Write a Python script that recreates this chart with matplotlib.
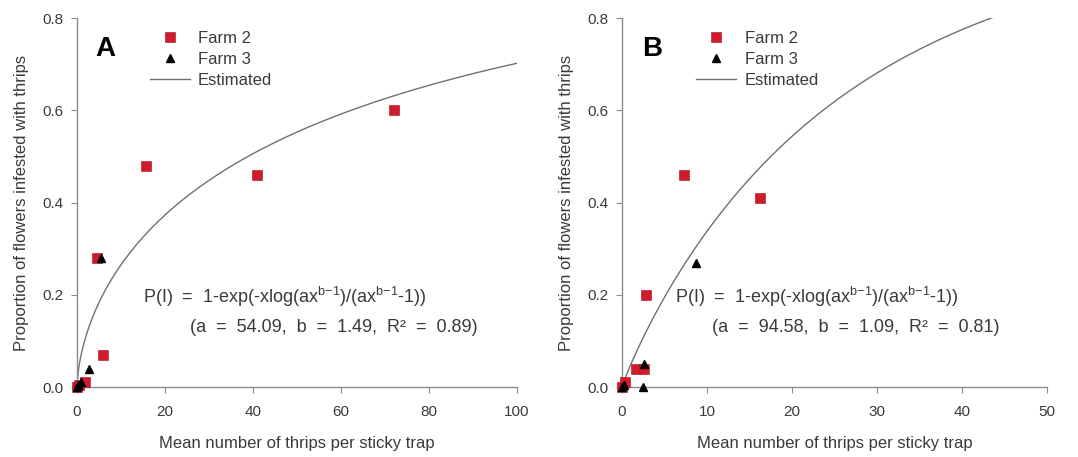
import matplotlib
matplotlib.use('Agg')
import matplotlib.pyplot as plt
import numpy as np

plt.rcParams['font.family'] = ['Liberation Sans', 'DejaVu Sans']
plt.rcParams['mathtext.fontset'] = 'custom'
plt.rcParams['mathtext.rm'] = 'Liberation Sans'
plt.rcParams['mathtext.it'] = 'Liberation Sans'

# ---- data ----
# Panel A
a_farm2_x = [0, 0.5, 1.8, 4.5, 6.0, 15.8, 41, 72]
a_farm2_y = [0, 0.005, 0.01, 0.28, 0.07, 0.48, 0.46, 0.60]
a_farm3_x = [0, 0.3, 1.0, 2.7, 5.5]
a_farm3_y = [0, 0.005, 0.01, 0.04, 0.28]
a_params = (54.09, 1.49)
a_r2 = 0.89

# Panel B
b_farm2_x = [0, 0.3, 1.6, 2.6, 2.8, 7.3, 16.2]
b_farm2_y = [0, 0.01, 0.04, 0.04, 0.20, 0.46, 0.41]
b_farm3_x = [0, 0.2, 2.6, 2.5, 8.7]
b_farm3_y = [0, 0.005, 0.05, 0.0, 0.27]
b_params = (94.58, 1.09)
b_r2 = 0.81

RED = '#d11a2a'
GREY = '#8c8c8c'
TXT = '#3a3a3a'


def model(x, a, b):
    # fitted curve stated in the chart annotation
    u = a * x ** (b - 1)
    return 1 - np.exp(-x * np.log(u) / (u - 1))


def panel(ax, f2x, f2y, f3x, f3y, params, r2, xmax, xstep, letter,
          letter_x, eq_x, eq2_x, leg_x):
    a, b = params
    xs = np.linspace(1e-4, xmax, 600)
    ax.plot(xs, model(xs, a, b), color='#707070', lw=1.0, label='Estimated')
    ax.plot(f2x, f2y, 's', color=RED, ms=6.5, mec='#a01020', mew=0.4,
            ls='none', clip_on=False, label='Farm 2', zorder=3)
    ax.plot(f3x, f3y, '^', color='black', ms=6, ls='none', clip_on=False,
            label='Farm 3', zorder=3)

    ax.set_xlim(0, xmax)
    ax.set_ylim(0, 0.8)
    ax.set_xticks(np.arange(0, xmax + 1, xstep))
    ax.set_yticks([0, 0.2, 0.4, 0.6, 0.8])
    ax.set_yticklabels(['0.0', '0.2', '0.4', '0.6', '0.8'])
    for s in ['top', 'right']:
        ax.spines[s].set_visible(False)
    for s in ['left', 'bottom']:
        ax.spines[s].set_color(GREY)
        ax.spines[s].set_linewidth(1.0)
    ax.tick_params(colors=GREY, labelcolor=TXT, labelsize=11, length=4)
    ax.tick_params(axis='x', pad=9)
    ax.tick_params(axis='y', pad=6)
    ax.set_xlabel('Mean number of thrips per sticky trap', fontsize=12,
                  color=TXT, labelpad=12)
    ax.set_ylabel('Proportion of flowers infested with thrips', fontsize=12,
                  color=TXT, labelpad=9)

    ax.text(letter_x, 0.733, letter, fontsize=20, fontweight='bold',
            ha='center', va='center')
    sup = r'$\mathregular{^{b{-}1}}$'
    ax.text(eq_x, 0.195,
            'P(I)  =  1-exp(-xlog(ax' + sup + ')/(ax' + sup + '-1))',
            fontsize=13, color=TXT, va='center', ha='left')
    ax.text(eq2_x, 0.13,
            f'(a  =  {a:.2f},  b  =  {b:.2f},  R\u00b2  =  {r2:.2f})',
            fontsize=13, color=TXT, va='center', ha='left')

    h, l = ax.get_legend_handles_labels()
    order = [1, 2, 0]
    ax.legend([h[i] for i in order], [l[i] for i in order],
              loc='upper left', bbox_to_anchor=(leg_x, 0.965), frameon=False,
              fontsize=12, handlelength=2.4, handletextpad=0.5,
              labelspacing=0.36, borderaxespad=0, borderpad=0,
              labelcolor=TXT)


fig = plt.figure(figsize=(10.78, 4.57), dpi=100)
axA = fig.add_axes([0.0714, 0.153, 0.408, 0.807])
axB = fig.add_axes([0.577, 0.153, 0.394, 0.807])

panel(axA, a_farm2_x, a_farm2_y, a_farm3_x, a_farm3_y, a_params, a_r2,
      100, 20, 'A', 6.4, 15, 25.7, 0.165)
panel(axB, b_farm2_x, b_farm2_y, b_farm3_x, b_farm3_y, b_params, b_r2,
      50, 10, 'B', 3.5, 6.2, 10.6, 0.175)

fig.savefig('out.png', dpi=100, facecolor='white')
